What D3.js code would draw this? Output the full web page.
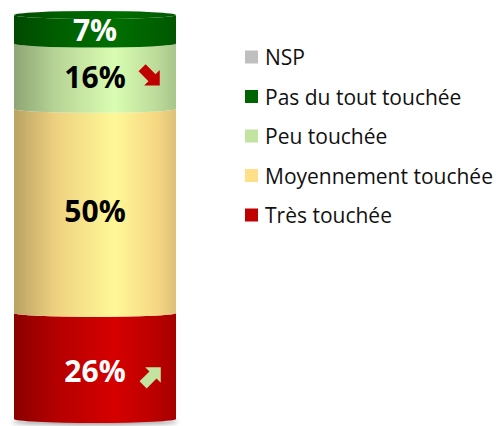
<!DOCTYPE html>
<html>
<head>
<meta charset="utf-8">
<script src="https://cdn.jsdelivr.net/npm/d3@7"></script>
<style>
  body { margin: 0; background: #fff; }
  svg { display: block; }
</style>
</head>
<body>
<svg></svg>
<script>
// categories, bottom to top of the stack
let categories = ['Très touchée', 'Moyennement touchée', 'Peu touchée', 'Pas du tout touchée', 'NSP']
let values = [26, 50, 16, 7, 0]
let labels = ['26%', '50%', '16%', '7%', '']
let colors = ['#c00000', '#ffdf88', '#c3e3a0', '#006400', '#bfbfbf']
let labelColors = ['#fff', '#000', '#000', '#fff', '#000']
// trend arrows next to some labels: 1 = up, -1 = down
let trends = [1, 0, -1, 0, 0]
let trendColors = ['#c3e3a0', null, '#c00000', null, null]

// legend order, top to bottom
let legendOrder = ['NSP', 'Pas du tout touchée', 'Peu touchée', 'Moyennement touchée', 'Très touchée']

let width = 496
let height = 426

let svg = d3.select('svg')
    .attr('width', width)
    .attr('height', height)

// stack values
let stacked = []
let acc = 0
values.forEach((v, i) => {
    stacked.push({ i: i, y0: acc, y1: acc + v })
    acc += v
})

let xScale = d3.scaleBand()
    .domain(['bar'])
    .range([14, 176])
    .padding(0)

let yScale = d3.scaleLinear()
    .domain([0, d3.sum(values)])
    .range([419, 15])

let x0 = xScale('bar')
let x1 = x0 + xScale.bandwidth()
let cx = (x0 + x1) / 2
let rx = xScale.bandwidth() / 2
let ry = 4

// horizontal shading gradients for the cylinder look
let defs = svg.append('defs')
colors.forEach((c, i) => {
    let base = d3.color(c)
    let g = defs.append('linearGradient')
        .attr('id', 'grad' + i)
        .attr('x1', '0%').attr('x2', '100%')
        .attr('y1', '0%').attr('y2', '0%')
    g.append('stop').attr('offset', '0%').attr('stop-color', base.darker(0.9))
    g.append('stop').attr('offset', '25%').attr('stop-color', base.darker(0.2))
    g.append('stop').attr('offset', '62%').attr('stop-color', base.brighter(0.3))
    g.append('stop').attr('offset', '88%').attr('stop-color', base.darker(0.1))
    g.append('stop').attr('offset', '100%').attr('stop-color', base.darker(0.4))
})

let blur = defs.append('filter').attr('id', 'blur')
blur.append('feGaussianBlur').attr('stdDeviation', 2)

// shadow under the cylinder
svg.append('ellipse')
    .attr('cx', cx)
    .attr('cy', yScale(0) + 3)
    .attr('rx', rx + 2)
    .attr('ry', 3)
    .attr('fill', '#999')
    .attr('filter', 'url(#blur)')

let segments = stacked.filter(d => values[d.i] > 0)

svg.selectAll('path.seg')
    .data(segments)
    .enter()
    .append('path')
    .attr('class', 'seg')
    .attr('fill', d => 'url(#grad' + d.i + ')')
    .attr('d', d => {
        let yt = yScale(d.y1)
        let yb = yScale(d.y0)
        return 'M' + x0 + ',' + yt +
            ' A' + rx + ',' + ry + ' 0 0 0 ' + x1 + ',' + yt +
            ' L' + x1 + ',' + yb +
            ' A' + rx + ',' + ry + ' 0 0 1 ' + x0 + ',' + yb + ' Z'
    })

// top cap
let topSeg = segments[segments.length - 1]
svg.append('ellipse')
    .attr('cx', cx)
    .attr('cy', yScale(topSeg.y1))
    .attr('rx', rx)
    .attr('ry', ry)
    .attr('fill', 'url(#grad' + topSeg.i + ')')

let labelY = d => (yScale(d.y0) + yScale(d.y1)) / 2 + (d.i === 0 ? 5 : 0)

// data labels
svg.selectAll('text.lab')
    .data(segments)
    .enter()
    .append('text')
    .attr('class', 'lab')
    .attr('x', cx)
    .attr('y', labelY)
    .attr('text-anchor', 'middle')
    .attr('dominant-baseline', 'central')
    .attr('font-family', '"Open Sans", sans-serif')
    .attr('font-weight', 'bold')
    .attr('font-size', 30)
    .attr('fill', d => labelColors[d.i])
    .text(d => labels[d.i])

// trend arrows (square-headed block arrow, pointing right before rotation)
let arrowShape = 'M-14,-5 L0,-5 L0,-11 L11,0 L0,11 L0,5 L-14,5 Z'
svg.selectAll('path.arrow')
    .data(segments.filter(d => trends[d.i] !== 0))
    .enter()
    .append('path')
    .attr('class', 'arrow')
    .attr('d', arrowShape)
    .attr('fill', d => trendColors[d.i])
    .attr('transform', d => {
        let up = trends[d.i] > 0
        return 'translate(' + (up ? 153 : 152) + ',' + (labelY(d) + (up ? 4 : 1.5)) + ') rotate(' + (up ? -45 : 45) + ')'
    })

// legend
let legendY = d3.scalePoint()
    .domain(legendOrder)
    .range([57, 215])

let legend = svg.selectAll('g.leg')
    .data(legendOrder)
    .enter()
    .append('g')
    .attr('class', 'leg')
    .attr('transform', d => 'translate(245,' + legendY(d) + ')')

legend.append('rect')
    .attr('x', 0)
    .attr('y', -6.5)
    .attr('width', 13)
    .attr('height', 13)
    .attr('fill', d => colors[categories.indexOf(d)])

legend.append('text')
    .attr('x', 20)
    .attr('y', 0)
    .attr('dominant-baseline', 'central')
    .attr('font-family', '"Open Sans", sans-serif')
    .attr('font-size', 21)
    .attr('fill', '#111')
    .text(d => d)
</script>
</body>
</html>
